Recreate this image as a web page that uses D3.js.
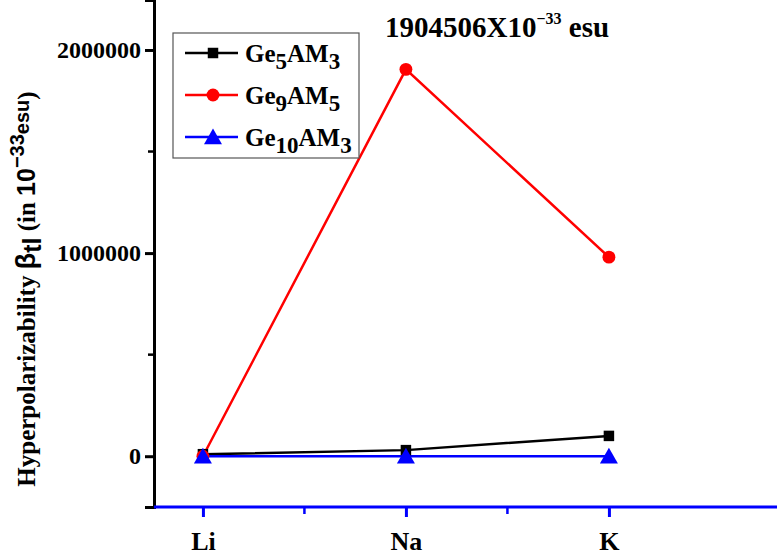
<!DOCTYPE html>
<html>
<head>
<meta charset="utf-8">
<script src="https://cdn.jsdelivr.net/npm/d3@7"></script>
<style>
  body { margin: 0; background: #fff; }
  svg text { font-family: "Liberation Serif", "Times New Roman", serif; font-weight: bold; }
</style>
</head>
<body>
<div id="chart"></div>
<script>
var categories = ["Li", "Na", "K"];
var ge5am3 = [10000, 30000, 100000];
var ge9am5 = [0, 1904506, 980000];
var ge10am3 = [0, 0, 0];
var yTicks = [0, 1000000, 2000000];
var yMinor = [500000, 1500000];

var size = {w: 779, h: 556};
var plot = {left: 154, right: 777, top: 0, bottom: 507};

var svg = d3.select("#chart").append("svg")
  .attr("width", size.w).attr("height", size.h);

// categories sit at index 0,1,2; the axis runs a bit past them
var x = d3.scaleLinear().domain([-0.241, 2.828]).range([plot.left, plot.right]);
var y = d3.scaleLinear().domain([-250000, 2246000]).range([plot.bottom, plot.top]);

// y axis (black)
var yAxis = d3.axisLeft(y).tickValues(yTicks).tickSize(9).tickPadding(4)
  .tickFormat(function(d){ return d; });
var gy = svg.append("g").attr("transform", "translate(" + plot.left + ",0)").call(yAxis);
gy.select(".domain").attr("stroke", "#000").attr("stroke-width", 3);
gy.selectAll(".tick line").attr("stroke", "#000").attr("stroke-width", 3);
gy.selectAll(".tick text").attr("font-size", 24).attr("fill", "#000")
  .attr("font-family", "Liberation Serif").attr("font-weight", "bold");
svg.append("g").selectAll("line").data(yMinor).enter().append("line")
  .attr("x1", plot.left - 6).attr("x2", plot.left)
  .attr("y1", function(d){ return y(d); }).attr("y2", function(d){ return y(d); })
  .attr("stroke", "#000").attr("stroke-width", 2.5);

// x axis (blue)
var xAxis = d3.axisBottom(x).tickValues([0, 1, 2]).tickSize(10).tickPadding(15)
  .tickFormat(function(d){ return categories[d]; });
var gx = svg.append("g").attr("transform", "translate(0," + plot.bottom + ")").call(xAxis);
gx.select(".domain").attr("stroke", "#0000ff").attr("stroke-width", 3).attr("d",
  "M" + plot.left + ",0H" + plot.right);
gx.selectAll(".tick line").attr("stroke", "#0000ff").attr("stroke-width", 3);
gx.selectAll(".tick text").attr("font-size", 26).attr("fill", "#000")
  .attr("font-family", "Liberation Serif").attr("font-weight", "bold");
svg.append("g").selectAll("line").data([0.5, 1.5]).enter().append("line")
  .attr("x1", function(d){ return x(d); }).attr("x2", function(d){ return x(d); })
  .attr("y1", plot.bottom).attr("y2", plot.bottom + 7)
  .attr("stroke", "#0000ff").attr("stroke-width", 2.5);

// series
var series = [
  {base: "Ge", sub1: "5", sub2: "3", values: ge5am3, color: "#000000", marker: "square"},
  {base: "Ge", sub1: "9", sub2: "5", values: ge9am5, color: "#ff0000", marker: "circle"},
  {base: "Ge", sub1: "10", sub2: "3", values: ge10am3, color: "#0000ff", marker: "triangle"}
];

var line = d3.line().x(function(d, i){ return x(i); }).y(function(d){ return y(d); });
var symbols = {square: d3.symbolSquare, circle: d3.symbolCircle, triangle: d3.symbolTriangle};
var symSize = {square: 110, circle: 130, triangle: 140};

series.forEach(function(s) {
  svg.append("path").datum(s.values).attr("d", line)
    .attr("fill", "none").attr("stroke", s.color).attr("stroke-width", 2.5);
});
series.forEach(function(s) {
  svg.append("g").selectAll("path").data(s.values).enter().append("path")
    .attr("transform", function(d, i){ return "translate(" + x(i) + "," + (y(d) + (s.marker == "triangle" ? 2 : 0)) + ")"; })
    .attr("d", d3.symbol().type(symbols[s.marker]).size(symSize[s.marker]))
    .attr("fill", s.color);
});

// legend
var legend = svg.append("g").attr("transform", "translate(173,33)");
legend.append("rect").attr("width", 186).attr("height", 125)
  .attr("fill", "#fff").attr("stroke", "#555").attr("stroke-width", 1.2);
series.forEach(function(s, i) {
  var ly = 20 + i * 42;
  legend.append("line").attr("x1", 12).attr("x2", 65).attr("y1", ly).attr("y2", ly)
    .attr("stroke", s.color).attr("stroke-width", 2.5);
  legend.append("path").attr("transform", "translate(40," + (ly + (s.marker == "triangle" ? 2 : 0)) + ")")
    .attr("d", d3.symbol().type(symbols[s.marker]).size(symSize[s.marker]))
    .attr("fill", s.color);
  var t = legend.append("text").attr("x", 72).attr("y", ly + 9).attr("font-size", 25).attr("fill", "#000");
  t.append("tspan").text(s.base);
  t.append("tspan").attr("dy", 7).attr("font-size", 23).text(s.sub1);
  t.append("tspan").attr("dy", -7).text("AM");
  t.append("tspan").attr("dy", 7).attr("font-size", 23).text(s.sub2);
});

// annotation
var ann = svg.append("text").attr("x", 385).attr("y", 37).attr("font-size", 29).attr("fill", "#000");
ann.append("tspan").text("1904506X10");
ann.append("tspan").attr("dy", -13).attr("font-size", 16).text("\u221233");
ann.append("tspan").attr("dy", 13).text(" esu");

// y label
var yl = svg.append("text").attr("transform", "translate(35,289) rotate(-90)")
  .attr("text-anchor", "middle").attr("font-size", 25).attr("fill", "#000");
yl.append("tspan").text("Hyperpolarizability ");
yl.append("tspan").attr("font-family", "Liberation Sans").attr("font-size", 27).text("\u03b2");
yl.append("tspan").attr("dy", 6).attr("font-family", "Liberation Sans").text("tl");
yl.append("tspan").attr("dy", -6).text(" (in ");
yl.append("tspan").attr("font-family", "Liberation Sans").text("10");
yl.append("tspan").attr("dy", -11).attr("font-family", "Liberation Sans").attr("font-size", 20).text("\u221233");
yl.append("tspan").attr("dy", 5).attr("font-family", "Liberation Sans").attr("font-size", 20).text("esu");
yl.append("tspan").attr("dy", 6).text(")");
</script>
</body>
</html>
